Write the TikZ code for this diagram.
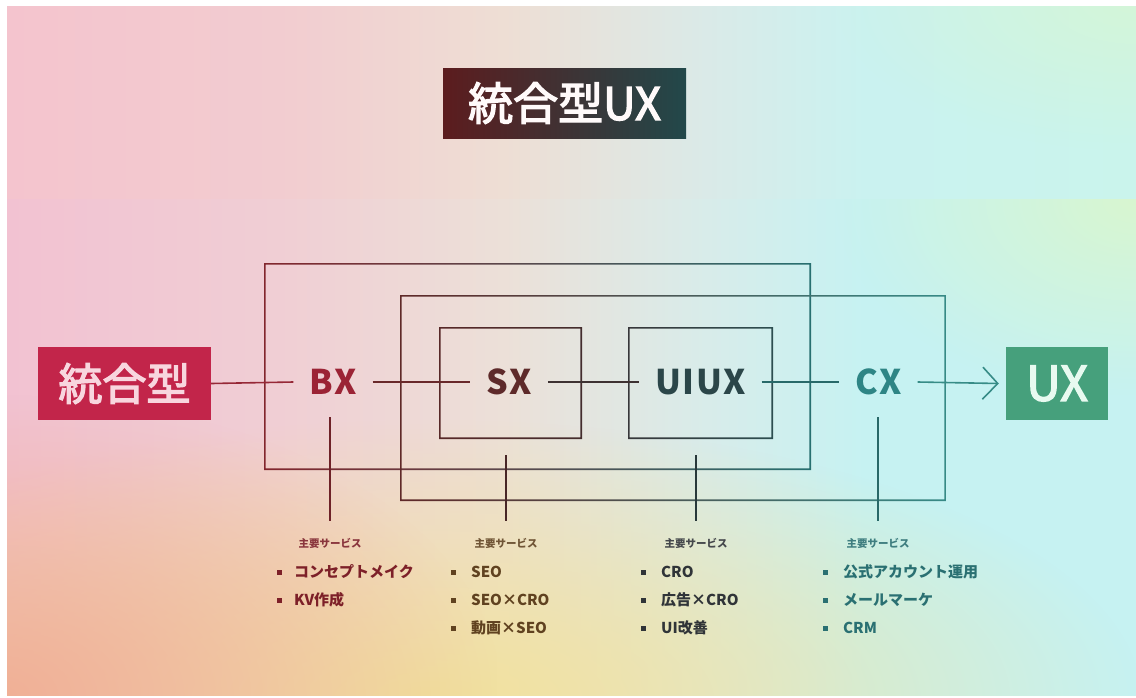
\documentclass[tikz,border=0pt]{standalone}
\usepackage{fontspec}
\setmainfont{Noto Sans CJK JP}
\newfontfamily\labfont[LetterSpace=4]{Noto Sans CJK JP}
\newfontfamily\boxfont[FakeBold=3]{Noto Sans CJK JP}
\usetikzlibrary{arrows.meta,fadings}
\tikzfading[name=glow, inner color=transparent!0, outer color=transparent!100]
\definecolor{ta}{RGB}{244,196,206}
\definecolor{tb}{RGB}{242,204,208}
\definecolor{tc}{RGB}{238,222,212}
\definecolor{td}{RGB}{218,234,232}
\definecolor{te}{RGB}{202,242,240}
\definecolor{tf}{RGB}{202,244,236}
\definecolor{ba}{RGB}{242,194,210}
\definecolor{bb}{RGB}{240,206,212}
\definecolor{bc}{RGB}{236,224,216}
\definecolor{bd}{RGB}{216,236,234}
\definecolor{be}{RGB}{198,242,242}
\pgfdeclarehorizontalshading{bgtop}{100bp}{%
  color(0bp)=(ta); color(25bp)=(ta); color(37bp)=(tb); color(47bp)=(tc);
  color(56bp)=(td); color(63bp)=(te); color(75bp)=(tf); color(100bp)=(tf)}
\pgfdeclarehorizontalshading{bgbot}{100bp}{%
  color(0bp)=(ba); color(25bp)=(ba); color(37bp)=(bb); color(47bp)=(bc);
  color(56bp)=(bd); color(63bp)=(be); color(75bp)=(be); color(100bp)=(be)}
\definecolor{salmon}{RGB}{240,176,150}
\definecolor{warmyel}{RGB}{242,226,156}
\definecolor{mint}{RGB}{216,246,208}
\definecolor{crimson}{RGB}{194,37,74}
\definecolor{uxgreen}{RGB}{70,160,124}
\definecolor{titleL}{RGB}{92,28,30}
\definecolor{titleR}{RGB}{34,72,74}
\definecolor{bxc}{RGB}{155,35,53}
\definecolor{sxc}{RGB}{94,42,42}
\definecolor{uic}{RGB}{43,70,73}
\definecolor{cxc}{RGB}{46,133,133}
\definecolor{bxl}{RGB}{125,32,40}
\definecolor{sxl}{RGB}{96,66,32}
\definecolor{uil}{RGB}{48,52,56}
\definecolor{cxl}{RGB}{42,112,114}
\definecolor{c1}{RGB}{150,40,55}
\definecolor{c2}{RGB}{105,40,42}
\definecolor{c3}{RGB}{62,50,50}
\definecolor{c4}{RGB}{40,105,105}
\definecolor{c5}{RGB}{55,140,135}
\definecolor{v1}{RGB}{110,34,40}
\definecolor{v2}{RGB}{72,38,38}
\definecolor{v3}{RGB}{40,56,58}
\definecolor{v4}{RGB}{40,104,104}
\tikzset{
  ln/.style={line width=1.6pt},
  frm/.style={inner sep=0pt, draw=none},
  xlab/.style={font=\labfont\bfseries\fontsize{34}{34}\selectfont, inner xsep=16pt, inner ysep=4pt},
  svc/.style={font=\bfseries\fontsize{10.5}{11}\selectfont, inner sep=1pt},
  item/.style={font=\bfseries\fontsize{15}{15}\selectfont, anchor=west, inner sep=0pt},
  bul/.style={minimum size=5pt, inner sep=0pt},
}
\newcommand{\frameshade}[4]{%
  \shade[left color=#2, middle color=#3, right color=#4, even odd rule]
    ([shift={(-0.8pt,-0.8pt)}]#1.south west) rectangle ([shift={(0.8pt,0.8pt)}]#1.north east)
    ([shift={(0.8pt,0.8pt)}]#1.south west) rectangle ([shift={(-0.8pt,-0.8pt)}]#1.north east);}
\begin{document}
\begin{tikzpicture}[x=1pt,y=-1pt]
\useasboundingbox (0,0) rectangle (1136,697);
\fill[white] (0,0) rectangle (1136,697);
% top panel
\begin{scope}
\clip (7,6) rectangle (1136,199);
\shade[shading=bgtop] (7,6) rectangle (1136,199);
\fill[mint, path fading=glow, fill opacity=0.7] (836,-150) rectangle (1436,150);
\end{scope}
% lower panel
\begin{scope}
\clip (7,199) rectangle (1136,695);
\shade[shading=bgbot] (7,199) rectangle (1136,695);
\fill[warmyel, path fading=glow] (-280,420) rectangle (1140,980);
\fill[salmon, path fading=glow] (-500,395) rectangle (500,995);
\fill[mint, path fading=glow] (836,0) rectangle (1436,400);
\end{scope}
% title
\node[left color=titleL, right color=titleR, minimum width=243pt, minimum height=70pt, inner sep=0pt,
      text=white!92!pink, font=\boxfont\fontsize{45}{45}\selectfont] (title) at (564.5,103) {統合型UX};
% frames
\node[frm, minimum width=545pt, minimum height=205pt] (f1) at (537.5,366.5) {};
\node[frm, minimum width=544pt, minimum height=204pt] (f2) at (673,398) {};
\node[frm, minimum width=141pt, minimum height=110pt] (sxbox) at (510.5,383) {};
\node[frm, minimum width=143pt, minimum height=110pt] (uibox) at (700.5,383) {};
\frameshade{f1}{{rgb,255:red,130;green,38;blue,45}}{{rgb,255:red,62;green,50;blue,50}}{{rgb,255:red,40;green,112;blue,112}}
\frameshade{f2}{{rgb,255:red,95;green,40;blue,40}}{{rgb,255:red,48;green,68;blue,70}}{{rgb,255:red,55;green,138;blue,134}}
\frameshade{sxbox}{{rgb,255:red,88;green,40;blue,40}}{{rgb,255:red,78;green,43;blue,43}}{{rgb,255:red,68;green,45;blue,45}}
\frameshade{uibox}{{rgb,255:red,55;green,55;blue,58}}{{rgb,255:red,50;green,66;blue,69}}{{rgb,255:red,45;green,78;blue,80}}
% end boxes
\node[fill=crimson, minimum width=173pt, minimum height=73pt, inner sep=0pt,
      text={rgb,255:red,248;green,214;blue,222}, font=\boxfont\fontsize{44}{44}\selectfont] (tg) at (124.5,383.5) {統合型};
\node[fill=uxgreen, minimum width=102pt, minimum height=73pt, inner sep=0pt,
      text={rgb,255:red,232;green,250;blue,240}, font=\boxfont\fontsize{48}{48}\selectfont] (ux) at (1057,383.5) {UX};
% labels
\node[xlab, text=bxc] (bx) at (333,382) {BX};
\node[xlab, text=sxc] (sx) at (509,382) {SX};
\node[xlab, text=uic] (ui) at (700.5,382) {UIUX};
\node[xlab, text=cxc] (cx) at (878.5,382) {CX};
% connectors
\draw[ln, c1] (tg.east) -- (bx.west);
\draw[ln, c2] (bx.east) -- (sx.west);
\draw[ln, c3] (sx.east) -- (ui.west);
\draw[ln, c4] (ui.east) -- (cx.west);
\draw[ln, c5, -{Straight Barb[length=15pt,width=32pt]}] (cx.east) -- ([xshift=-7pt]ux.west);
% service headings
\node[svc, text=bxl!90!white] (bxsvc) at (330,543) {主要サービス};
\node[svc, text=sxl!90!white] (sxsvc) at (506,543) {主要サービス};
\node[svc, text=uil!90!white] (uisvc) at (696,543) {主要サービス};
\node[svc, text=cxl!90!white] (cxsvc) at (878,543) {主要サービス};
% verticals
\draw[ln, v1] (bxsvc |- bx.center) ++(0,35) -- ([yshift=22pt]bxsvc.center);
\draw[ln, v2] ([yshift=-17pt]sxsvc |- sxbox.south) -- ([yshift=22pt]sxsvc.center);
\draw[ln, v3] ([yshift=-17pt]uisvc |- uibox.south) -- ([yshift=22pt]uisvc.center);
\draw[ln, v4] (cxsvc |- cx.center) ++(0,35) -- ([yshift=22pt]cxsvc.center);
% lists
\node[bul, fill=bxl] (bb1) at (279,572) {};
\node[bul, fill=bxl] (bb2) at (279,600) {};
\node[item, text=bxl] (bx1) at (294,572) {コンセプトメイク};
\node[item, text=bxl] (bx2) at (294,600) {KV作成};
\node[bul, fill=sxl] (sb1) at (453,572) {};
\node[bul, fill=sxl] (sb2) at (453,600) {};
\node[bul, fill=sxl] (sb3) at (453,628) {};
\node[item, text=sxl] (sx1) at (471,572) {SEO};
\node[item, text=sxl] (sx2) at (471,600) {SEO×CRO};
\node[item, text=sxl] (sx3) at (471,628) {動画×SEO};
\node[bul, fill=uil] (ub1) at (643,572) {};
\node[bul, fill=uil] (ub2) at (643,600) {};
\node[bul, fill=uil] (ub3) at (643,628) {};
\node[item, text=uil] (ui1) at (661,572) {CRO};
\node[item, text=uil] (ui2) at (661,600) {広告×CRO};
\node[item, text=uil] (ui3) at (661,628) {UI改善};
\node[bul, fill=cxl] (cb1) at (825,572) {};
\node[bul, fill=cxl] (cb2) at (825,600) {};
\node[bul, fill=cxl] (cb3) at (825,628) {};
\node[item, text=cxl] (cx1) at (843,572) {公式アカウント運用};
\node[item, text=cxl] (cx2) at (843,600) {メールマーケ};
\node[item, text=cxl] (cx3) at (843,628) {CRM};
\end{tikzpicture}
\end{document}
